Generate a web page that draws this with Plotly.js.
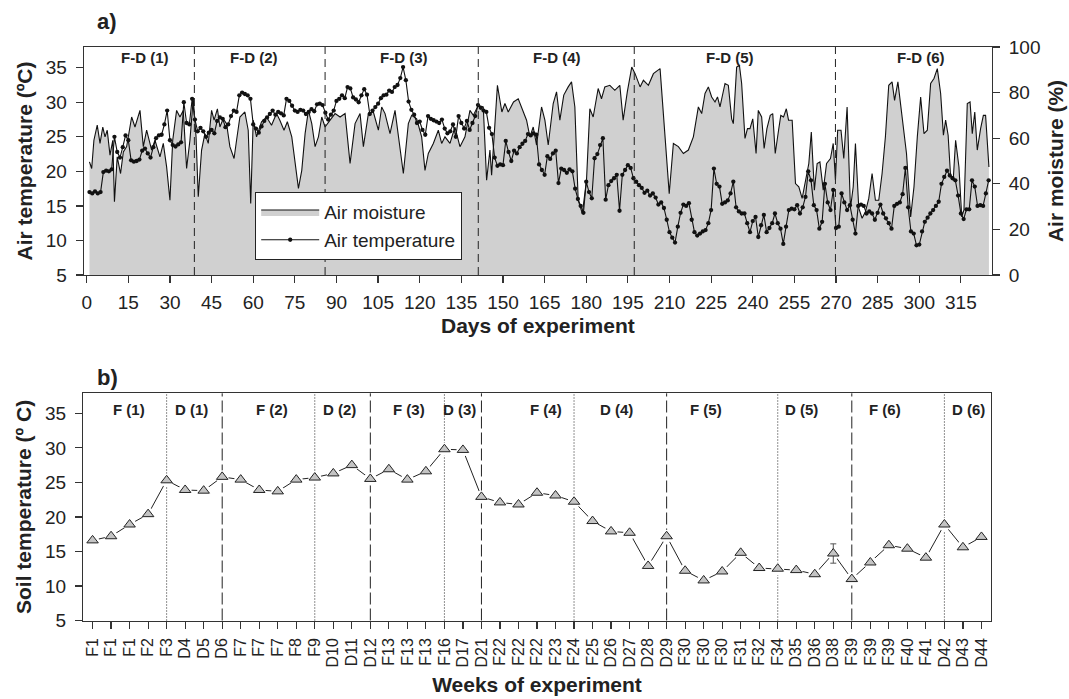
<!DOCTYPE html>
<html>
<head>
<meta charset="utf-8">
<script src="https://cdn.plot.ly/plotly-3.0.1.min.js"></script>
<style>
  html, body { margin: 0; padding: 0; background: #fff; }
  #chart { width: 1069px; height: 699px; }
</style>
</head>
<body>
<div id="chart"></div>
<script>
// ---------- a) daily air conditions ----------
// Air moisture (%) by day of experiment
const moistDay = [
  1.0, 1.8, 2.6, 3.8, 4.8, 5.8, 6.6, 7.4, 8.4, 9.4, 10.0, 11.0, 12.2, 13.2, 14.4, 16.2, 17.4, 19.2, 20.4, 21.6,
  23.4, 24.6, 26.4, 27.6, 28.8, 30.0, 31.0, 32.4, 33.6, 34.8, 36.0, 37.2, 38.4, 39.4, 40.2, 41.4, 42.6, 43.8, 45.0, 45.9,
  47.1, 48.0, 49.2, 50.4, 51.6, 53.1, 54.0, 55.2, 57.0, 58.2, 59.1, 60.0, 61.2, 63.0, 64.8, 66.6, 68.4, 69.6, 71.1, 72.3,
  73.9, 75.1, 76.3, 77.5, 78.7, 79.9, 81.1, 82.3, 83.5, 84.7, 85.9, 87.7, 89.5, 91.3, 93.1, 94.9, 96.7, 98.5, 99.7, 101.5,
  103.3, 105.1, 106.3, 107.5, 109.3, 111.1, 112.3, 114.1, 115.9, 117.1, 118.9, 120.7, 121.9, 123.1, 124.9, 126.7, 127.9, 129.1, 130.9, 132.7,
  134.5, 136.3, 138.1, 139.3, 141.1, 142.9, 144.1, 145.3, 145.9, 147.1, 148.0, 149.6, 150.7, 151.9, 153.8, 155.5, 156.7, 158.5, 159.7, 160.9,
  162.1, 163.9, 165.1, 166.3, 168.1, 169.3, 170.5, 171.9, 173.5, 174.7, 175.9, 177.1, 178.6, 180.1, 181.3, 182.5, 184.3, 185.5, 186.7, 188.5,
  190.3, 192.1, 193.3, 194.8, 196.4, 197.6, 199.4, 200.6, 202.4, 204.2, 206.6, 208.0, 209.9, 211.4, 213.2, 215.0, 216.8, 218.6, 220.4, 221.6,
  222.8, 224.0, 225.2, 226.4, 227.3, 228.2, 230.0, 231.2, 232.4, 233.0, 234.2, 235.2, 236.0, 237.2, 238.1, 239.0, 240.0, 241.2, 242.0, 243.2,
  244.1, 245.1, 246.3, 247.2, 248.1, 249.3, 250.1, 251.1, 252.1, 252.9, 254.2, 255.4, 256.6, 257.8, 259.0, 260.2, 261.1, 262.2, 263.2, 264.2,
  265.4, 266.6, 268.0, 269.0, 269.8, 270.6, 271.8, 272.8, 274.0, 275.2, 276.2, 277.0, 278.2, 279.4, 280.6, 281.8, 283.0, 284.2, 285.4, 286.6,
  287.8, 289.0, 290.2, 291.1, 292.3, 293.9, 295.4, 296.9, 298.1, 299.3, 300.5, 301.7, 302.9, 304.1, 305.3, 306.5, 307.7, 308.7, 309.5, 310.4,
  311.3, 312.3, 313.1, 314.3, 315.3, 316.1, 317.3, 318.3, 319.1, 320.0, 320.9, 322.1, 323.1, 323.9, 325.1
];
const moistVal = [
  49.6, 46.7, 59.1, 65.7, 57.7, 64.9, 60.6, 63.5, 52.6, 59.1, 32.1, 51.8, 44.5, 54.0, 56.3, 69.3, 64.9, 72.2, 56.3, 63.5,
  54.8, 59.1, 51.8, 57.7, 47.4, 32.8, 59.1, 72.2, 69.3, 72.2, 46.7, 59.1, 77.3, 60.6, 34.3, 54.8, 62.0, 57.7, 72.2, 67.9,
  72.9, 64.9, 68.5, 66.4, 56.3, 51.1, 59.1, 69.3, 71.5, 63.5, 31.4, 67.9, 60.6, 67.2, 69.3, 65.7, 70.8, 67.9, 63.5, 67.2,
  60.6, 50.4, 38.0, 45.9, 62.0, 72.2, 66.4, 56.3, 60.6, 69.3, 64.9, 67.9, 70.8, 69.3, 70.8, 48.9, 66.4, 70.8, 56.3, 70.8,
  71.5, 63.5, 73.7, 70.8, 62.0, 72.2, 60.6, 44.5, 66.4, 70.0, 68.5, 60.6, 45.9, 53.3, 57.7, 63.5, 57.7, 60.6, 57.7, 64.9,
  56.3, 60.6, 72.2, 70.0, 74.4, 73.7, 41.6, 54.8, 43.8, 64.9, 83.2, 71.5, 75.2, 71.5, 75.9, 77.3, 73.7, 67.9, 60.6, 64.9,
  57.0, 73.7, 67.9, 57.0, 75.2, 80.3, 67.9, 78.9, 82.5, 84.7, 73.7, 32.8, 26.9, 41.6, 72.9, 69.3, 81.8, 77.3, 82.5, 83.2,
  81.0, 83.2, 67.9, 80.3, 91.2, 88.3, 82.5, 85.4, 83.2, 88.3, 90.5, 66.4, 35.7, 57.7, 56.3, 53.3, 54.8, 60.6, 73.7, 70.8,
  79.6, 82.5, 78.1, 75.9, 78.1, 73.7, 84.0, 83.2, 68.5, 66.4, 91.2, 91.9, 84.0, 59.9, 64.2, 64.2, 68.5, 53.3, 72.2, 69.3,
  55.5, 64.2, 70.0, 70.8, 53.3, 63.5, 70.0, 69.3, 72.9, 67.9, 67.9, 40.1, 38.7, 33.6, 41.6, 48.9, 62.7, 37.2, 48.9, 49.6,
  37.2, 48.9, 51.1, 57.7, 41.6, 63.5, 63.5, 51.1, 73.7, 29.3, 38.7, 57.7, 29.3, 24.9, 27.7, 33.6, 44.5, 32.8, 32.8, 44.5,
  60.6, 83.2, 84.7, 76.6, 84.7, 69.3, 53.3, 25.5, 38.7, 60.6, 78.1, 62.0, 63.5, 84.0, 86.2, 90.5, 79.6, 61.3, 67.9, 61.3,
  43.0, 43.0, 59.1, 47.4, 25.5, 28.5, 75.2, 75.9, 62.0, 71.5, 54.8, 64.2, 70.0, 70.0, 47.4
];

// Daily mean air temperature (ºC), days 1..325
const airTemp = [
  17.0, 16.8, 17.1, 16.8, 17.0, 19.9, 20.1, 20.0, 20.3, 25.0,
  22.8, 22.0, 23.5, 25.2, 24.5, 21.6, 21.4, 21.5, 21.7, 23.0,
  23.3, 22.6, 22.0, 23.5, 24.8, 25.2, 25.3, 26.8, 28.8, 24.5,
  23.8, 23.6, 23.9, 24.2, 30.0, 27.0, 26.8, 30.5, 27.5, 25.8,
  26.3, 25.8, 25.0, 25.6, 26.0, 25.5, 27.3, 27.8, 27.6, 26.4,
  26.8, 28.0, 28.8, 28.6, 31.0, 31.4, 31.2, 31.0, 30.5, 26.8,
  26.2, 25.6, 26.5, 27.3, 27.8, 28.3, 28.8, 28.2, 28.6, 28.4,
  28.1, 30.5, 30.2, 29.5, 28.8, 28.6, 28.9, 28.8, 28.3, 28.6,
  29.0, 28.7, 29.7, 29.8, 29.6, 28.5, 27.5, 28.2, 28.8, 30.2,
  30.5, 31.0, 30.6, 32.2, 32.0, 30.7, 30.4, 30.0, 31.0, 31.9,
  31.1, 28.3, 28.8, 29.3, 29.8, 30.6, 31.0, 31.1, 31.7, 31.5,
  32.2, 32.5, 33.5, 35.1, 33.2, 30.1, 28.9, 28.2, 27.0, 27.2,
  26.0, 25.3, 28.0, 27.6, 27.4, 27.2, 27.0, 27.5, 26.2, 25.5,
  25.8, 26.8, 25.0, 28.0, 27.0, 26.2, 27.3, 26.0, 27.0, 28.0,
  29.6, 29.2, 28.8, 28.6, 26.3, 25.4, 22.0, 20.8, 21.0, 20.9,
  24.4, 22.8, 21.5, 23.0, 22.6, 23.5, 24.0, 24.4, 25.4, 25.2,
  25.5, 25.3, 21.0, 20.2, 19.5, 22.2, 21.8, 22.6, 23.0, 18.3,
  20.4, 20.2, 19.8, 20.3, 20.0, 17.5, 16.0, 15.0, 14.0, 18.5,
  17.0, 16.1, 21.9, 22.5, 23.8, 24.8, 15.9, 18.0, 18.6, 19.0,
  19.5, 14.3, 19.5, 20.2, 20.9, 20.5, 19.0, 18.5, 18.0, 17.6,
  16.9, 17.2, 16.5, 16.8, 16.2, 15.2, 15.5, 14.7, 13.0, 11.2,
  10.4, 9.7, 12.0, 14.0, 15.2, 15.0, 15.4, 13.0, 11.2, 10.7,
  11.0, 11.3, 11.5, 12.5, 14.4, 20.4, 18.2, 17.8, 15.3, 15.5,
  15.8, 16.8, 18.5, 14.8, 14.2, 13.9, 13.9, 12.5, 11.2, 12.8,
  13.4, 10.5, 12.2, 13.7, 11.2, 11.8, 12.5, 13.9, 12.5, 11.7,
  9.5, 12.0, 14.4, 14.6, 14.5, 15.1, 13.9, 14.8, 16.3, 20.0,
  18.7, 15.1, 14.4, 11.7, 12.7, 18.2, 15.5, 14.4, 17.3, 11.8,
  12.0, 16.8, 15.5, 14.4, 15.1, 13.0, 11.0, 15.0, 15.2, 15.0,
  13.9, 14.2, 13.9, 13.0, 14.0, 15.2, 13.9, 13.2, 12.5, 11.7,
  15.0, 15.3, 15.5, 16.7, 20.5, 14.8, 11.3, 11.0, 9.3, 9.4,
  11.3, 12.7, 13.3, 13.9, 14.4, 15.0, 15.6, 18.2, 19.2, 20.1,
  19.4, 19.0, 18.7, 16.5, 13.9, 13.1, 14.5, 14.5, 18.7, 17.8,
  15.0, 15.1, 15.0, 16.8, 18.7
];
const airTempDay = airTemp.map((_, i) => i + 1);

// Flooding-drying cycle boundaries (days) and their labels
const cycleBounds = [38.8, 85.9, 141.1, 197.3, 269.8];
const cycleLabels = ['F-D (1)', 'F-D (2)', 'F-D (3)', 'F-D (4)', 'F-D (5)', 'F-D (6)'];
const cycleLabelDay = [20.9, 60.3, 114.5, 169.4, 231.8, 300.5];

// ---------- b) weekly soil temperature ----------
const weekLabels = [
  'F1', 'F1', 'F1', 'F2', 'F3', 'D4', 'D5', 'D6', 'F7', 'F7', 'F7', 'F8', 'F9', 'D10', 'D11', 'D12',
  'F13', 'F13', 'F13', 'F16', 'D17', 'D21', 'F22', 'F22', 'F22', 'F23', 'F24', 'F25', 'D26', 'D27', 'D28', 'D29',
  'F30', 'F30', 'F30', 'F31', 'F32', 'F34', 'D35', 'D36', 'D38', 'F39', 'F39', 'F39', 'F40', 'F41', 'D42', 'D43', 'D44'
];
const soilTemp = [
  16.6, 17.2, 18.9, 20.4, 25.3, 23.9, 23.8, 25.8, 25.4, 23.9, 23.7, 25.4, 25.7, 26.3, 27.5, 25.5,
  26.9, 25.4, 26.6, 29.8, 29.7, 22.9, 22.1, 21.8, 23.5, 23.1, 22.2, 19.4, 17.9, 17.7, 12.9, 17.2,
  12.2, 10.8, 12.1, 14.8, 12.6, 12.5, 12.3, 11.7, 14.7, 11.0, 13.4, 15.9, 15.4, 14.1, 18.9, 15.6, 17.1
];
const soilTempErr = [
  0, 0, 0, 0, 0, 0, 0, 0, 0, 0, 0, 0, 0, 0, 0, 0,
  0, 0, 0, 0, 0, 0, 0, 0, 0, 0, 0, 0, 0, 0, 0, 0,
  0, 0, 0, 0, 0, 0, 0, 0, 1.4, 0, 0, 0, 0, 0, 0, 0, 0
];
const weekIndex = weekLabels.map((_, i) => i);

// Phase boundaries (week index): flooding -> drying (dotted), drying -> flooding (dashed)
const dryStart = [4, 12, 19, 26, 37, 46];
const floodStart = [7, 15, 21, 31, 41];
const phaseLabels = ['F (1)', 'D (1)', 'F (2)', 'D (2)', 'F (3)', 'D (3)', 'F (4)', 'D (4)', 'F (5)', 'D (5)', 'F (6)', 'D (6)'];
const phaseLabelPos = [1.97, 5.35, 9.68, 13.35, 17.1, 19.8, 24.5, 28.3, 33.1, 38.3, 42.8, 47.3];

// ---------- styling ----------
const FONT = 'Liberation Sans, Arial, Helvetica, sans-serif';
const INK = '#222';
const AXIS = '#333';

const traces = [
  {
    x: moistDay, y: moistVal, xaxis: 'x', yaxis: 'y',
    type: 'scatter', mode: 'lines', name: 'Air moisture',
    fill: 'tozeroy', fillcolor: '#d0d0d0',
    line: { color: '#111', width: 1.1 },
    hoverinfo: 'x+y'
  },
  {
    x: airTempDay, y: airTemp, xaxis: 'x', yaxis: 'y2',
    type: 'scatter', mode: 'lines+markers', name: 'Air temperature',
    line: { color: '#111', width: 1.1 },
    marker: { color: '#111', size: 4.3 },
    hoverinfo: 'x+y'
  },
  {
    x: weekIndex, y: soilTemp, xaxis: 'x2', yaxis: 'y3',
    type: 'scatter', mode: 'lines', showlegend: false,
    line: { color: '#222', width: 1 },
    hoverinfo: 'skip'
  },
  {
    // white halo that opens a small gap in the line around each marker
    x: weekIndex, y: soilTemp, xaxis: 'x2', yaxis: 'y3',
    type: 'scatter', mode: 'markers', showlegend: false,
    marker: { symbol: 'circle', size: 13, color: '#fff', line: { width: 0 } },
    hoverinfo: 'skip'
  },
  {
    x: weekIndex, y: soilTemp, xaxis: 'x2', yaxis: 'y3',
    type: 'scatter', mode: 'markers', showlegend: false, name: 'Soil temperature',
    marker: { symbol: 'triangle-up', size: 10, color: '#c4c4c4', line: { color: '#222', width: 1 } },
    error_y: { type: 'data', array: soilTempErr, visible: true, color: '#555', thickness: 1, width: 3 },
    text: weekLabels, hovertemplate: '%{text}: %{y}<extra></extra>'
  }
];

const shapes = [];
cycleBounds.forEach(d => shapes.push({
  type: 'line', xref: 'x', yref: 'y domain', x0: d, x1: d, y0: 0, y1: 1,
  line: { color: '#222', width: 1, dash: '8px,5px' }, layer: 'above'
}));
dryStart.forEach(w => shapes.push({
  type: 'line', xref: 'x2', yref: 'y3 domain', x0: w, x1: w, y0: 0, y1: 1,
  line: { color: '#222', width: 1, dash: '1px,2px' }, layer: 'below'
}));
floodStart.forEach(w => shapes.push({
  type: 'line', xref: 'x2', yref: 'y3 domain', x0: w, x1: w, y0: 0, y1: 1,
  line: { color: '#222', width: 1, dash: '12px,4px' }, layer: 'below'
}));

const annotations = [];
cycleLabels.forEach((t, i) => annotations.push({
  x: cycleLabelDay[i], y: 36.5, xref: 'x', yref: 'y2', text: '<b>' + t + '</b>',
  showarrow: false, font: { size: 15, color: INK }, xanchor: 'center', yanchor: 'middle'
}));
phaseLabels.forEach((t, i) => annotations.push({
  x: phaseLabelPos[i], y: 35.6, xref: 'x2', yref: 'y3', text: '<b>' + t + '</b>',
  showarrow: false, font: { size: 15, color: INK }, xanchor: 'center', yanchor: 'middle'
}));
annotations.push({
  x: 107 / 1069, y: 1 - 21 / 699, xref: 'paper', yref: 'paper', text: '<b>a)</b>',
  showarrow: false, font: { size: 22, color: INK }, xanchor: 'center', yanchor: 'middle'
});
annotations.push({
  x: 107 / 1069, y: 1 - 377 / 699, xref: 'paper', yref: 'paper', text: '<b>b)</b>',
  showarrow: false, font: { size: 22, color: INK }, xanchor: 'center', yanchor: 'middle'
});

const axisCommon = {
  showgrid: false, zeroline: false, showline: true, linecolor: AXIS, linewidth: 1.3,
  ticks: 'outside', ticklen: 7, tickwidth: 1.2, tickcolor: AXIS,
  tickfont: { size: 19, color: INK }
};
const TITLE_FONT = { size: 21, color: INK };

const layout = {
  width: 1069, height: 699,
  margin: { l: 0, r: 0, t: 0, b: 0 },
  paper_bgcolor: '#fff', plot_bgcolor: '#fff',
  font: { family: FONT, size: 19, color: INK },
  showlegend: true,
  legend: {
    x: 255 / 1069, y: 1 - 192 / 699, xanchor: 'left', yanchor: 'top',
    bgcolor: '#fff', bordercolor: '#222', borderwidth: 1.2,
    font: { size: 19, color: INK }, itemwidth: 58, tracegroupgap: 0,
    entrywidth: 160, entrywidthmode: 'pixels',
    traceorder: 'normal'
  },
  xaxis: Object.assign({}, axisCommon, {
    domain: [84 / 1069, 991.7 / 1069], anchor: 'y',
    range: [-0.97, 326.1], tickmode: 'linear', tick0: 0, dtick: 15, mirror: true,
    ticklabelstandoff: 3,
    title: { text: '<b>Days of experiment</b>', font: TITLE_FONT, standoff: 6 }
  }),
  yaxis: Object.assign({}, axisCommon, {
    domain: [1 - 275 / 699, 1 - 47 / 699], anchor: 'x', side: 'right',
    range: [0, 100], tickmode: 'linear', tick0: 0, dtick: 20,
    ticklabelstandoff: 5,
    title: { text: '<b>Air moisture (%)</b>', font: TITLE_FONT, standoff: 8 }
  }),
  yaxis2: Object.assign({}, axisCommon, {
    overlaying: 'y', anchor: 'x', side: 'left',
    range: [5, 38], tickvals: [5, 10, 15, 20, 25, 30, 35],
    ticklabelstandoff: 5,
    title: { text: '<b>Air temperature (ºC)</b>', font: TITLE_FONT, standoff: 7 }
  }),
  xaxis2: Object.assign({}, axisCommon, {
    domain: [83.3 / 1069, 990.7 / 1069], anchor: 'y3',
    range: [-0.5, 48.5], tickmode: 'array', tickvals: weekIndex, ticktext: weekLabels,
    tickangle: -90, tickfont: { size: 16, color: INK }, mirror: true,
    ticklabelstandoff: 3,
    title: { text: '<b>Weeks of experiment</b>', font: TITLE_FONT, standoff: 10 }
  }),
  yaxis3: Object.assign({}, axisCommon, {
    domain: [1 - 620.5 / 699, 1 - 393.3 / 699], anchor: 'x2',
    range: [5, 37.9], tickvals: [5, 10, 15, 20, 25, 30, 35], mirror: true,
    ticklabelstandoff: 5,
    title: { text: '<b>Soil temperature (º C)</b>', font: TITLE_FONT, standoff: 7 }
  }),
  shapes: shapes,
  annotations: annotations
};

Plotly.newPlot('chart', traces, layout, { displayModeBar: false, staticPlot: true });
</script>
</body>
</html>
